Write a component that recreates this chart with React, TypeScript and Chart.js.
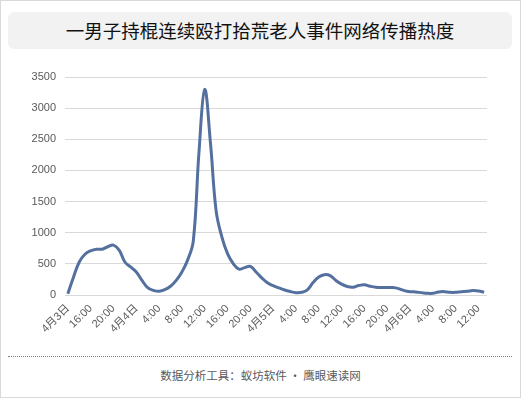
import React, { useEffect, useRef } from "react";
import { Chart, registerables } from "chart.js";

Chart.register(...registerables);

const titleText = "一男子持棍连续殴打拾荒老人事件网络传播热度";
const footerText = "数据分析工具：蚁坊软件 · 鹰眼速读网";

const dayLabels = ["4月3日", "4月4日", "4月5日", "4月6日"];
const startHour = 12;
const labelStep = 4;

const heatValues = [
  20, 290, 530, 655, 710, 735, 735, 775, 800, 720,
  530, 450, 370, 235, 118, 75, 60, 85, 140, 235,
  370, 560, 870, 2300, 3300, 2450, 1350, 935, 665, 505,
  415, 440, 460, 370, 275, 195, 150, 115, 80, 55,
  38, 43, 82, 200, 288, 326, 310, 234, 174, 136,
  125, 152, 163, 141, 125, 120, 120, 120, 103, 71,
  54, 49, 38, 27, 27, 49, 54, 43, 43, 54,
  60, 71, 65, 43,
];

const categories = heatValues.map((_, i) => {
  const total = startHour + i;
  const hour = total % 24;
  const day = Math.floor(total / 24);
  return i === 0 || hour === 0 ? dayLabels[day] : `${hour}:00`;
});

const yMax = 3500;
const yStep = 500;

export default function App() {
  const canvasRef = useRef<HTMLCanvasElement | null>(null);

  useEffect(() => {
    if (!canvasRef.current) return;
    const chart = new Chart(canvasRef.current, {
      type: "line",
      data: {
        labels: categories,
        datasets: [
          {
            data: heatValues,
            borderColor: "#54709e",
            borderWidth: 3,
            pointRadius: 0,
            tension: 0.4,
            fill: false,
          },
        ],
      },
      options: {
        animation: false,
        responsive: true,
        maintainAspectRatio: false,
        layout: { padding: { left: 0, right: 34, top: 22, bottom: 0 } },
        plugins: { legend: { display: false }, tooltip: { enabled: false } },
        scales: {
          x: {
            offset: true,
            grid: { display: false, drawTicks: false },
            border: { display: false },
            ticks: {
              autoSkip: false,
              minRotation: 45,
              maxRotation: 45,
              padding: 7,
              color: "#595959",
              font: { family: "'Liberation Sans', 'Noto Sans CJK SC'", size: 11 },
              callback: (_v: any, idx: number) =>
                idx % labelStep === 0 ? categories[idx] : null,
            },
            afterFit: (s: any) => {
              s.height = 50;
            },
          },
          y: {
            min: 0,
            max: yMax,
            grid: { color: "#d9d9d9", lineWidth: 1, drawTicks: false },
            border: { display: false },
            ticks: {
              stepSize: yStep,
              padding: 9,
              color: "#595959",
              font: { family: "'Liberation Sans', 'Noto Sans CJK SC'", size: 11 },
              callback: (v: any) => String(v),
            },
            afterFit: (s: any) => {
              s.width = 65;
            },
          },
        },
      },
    });
    return () => chart.destroy();
  }, []);

  return (
    <div
      style={{
        position: "absolute",
        left: 0,
        top: 0,
        width: 521,
        height: 398,
        boxSizing: "border-box",
        border: "1px solid #d9d9d9",
        background: "#ffffff",
        fontFamily: "'Noto Sans CJK SC', sans-serif",
      }}
    >
      <div
        style={{
          position: "absolute",
          left: 7,
          top: 11,
          width: 504,
          height: 37,
          background: "#f2f2f2",
          borderRadius: 6,
          display: "flex",
          alignItems: "center",
          justifyContent: "center",
          fontSize: 18.5,
          color: "#111111",
          lineHeight: "37px",
        }}
      >
        {titleText}
      </div>
      <div style={{ position: "absolute", left: -1, top: 54, width: 521, height: 290 }}>
        <canvas ref={canvasRef} />
      </div>
      <div
        style={{
          position: "absolute",
          left: 7,
          top: 355,
          width: 504,
          height: 0,
          borderTop: "1px dotted #808080",
        }}
      />
      <div
        style={{
          position: "absolute",
          left: 0,
          top: 365,
          width: 519,
          textAlign: "center",
          fontSize: 11.5,
          color: "#595959",
          lineHeight: "18px",
        }}
      >
        {footerText}
      </div>
    </div>
  );
}
